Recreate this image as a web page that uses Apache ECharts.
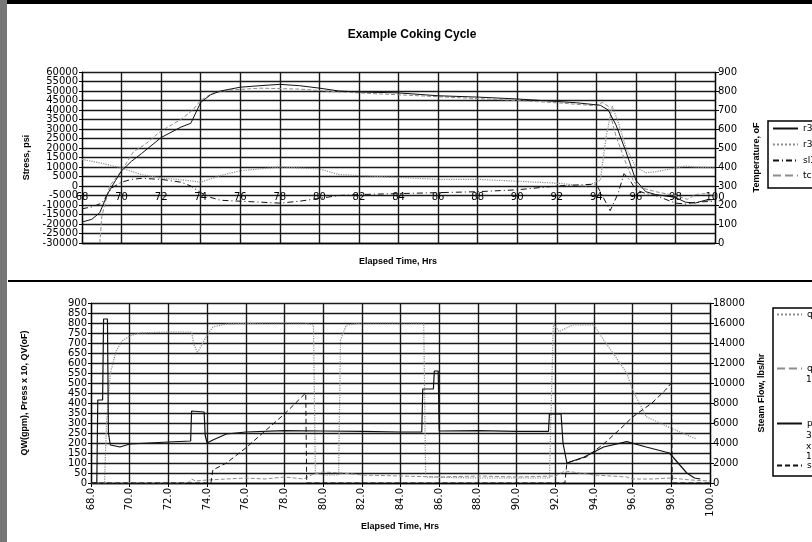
<!DOCTYPE html>
<html>
<head>
<meta charset="utf-8">
<script src="https://cdn.jsdelivr.net/npm/echarts@6/dist/echarts.min.js"></script>
<style>html,body{margin:0;padding:0;background:#fff}#c{width:812px;height:542px}</style>
</head>
<body>
<div id="c"></div>
<script>
// ---------- Top chart: Stress (left) / Temperature (right) ----------
const r3hT = [68.0,68.5,68.9,69.3,69.7,70.0,70.5,71.0,72.0,73.0,73.5,74.0,74.5,75.0,76.0,77.0,78.0,79.0,80.0,81.0,82.0,84.0,86.0,88.0,90.0,92.0,93.0,94.2,94.6,95.0,95.5,96.0,96.5,97.0,98.0,98.5,99.0,99.5,100.0];
const r3hV = [110,125,160,260,330,380,430,470,555,610,630,740,780,800,820,828,835,828,815,800,795,790,775,768,758,745,738,725,700,620,480,330,270,255,240,215,210,225,230];
const r3eT = [68.0,69.0,70.0,71.0,72.0,73.3,74.0,75.0,76.0,78.0,80.0,81.0,83.0,86.0,88.0,90.0,92.0,93.5,94.2,94.5,94.8,95.1,95.5,96.0,96.5,97.0,98.0,98.5,99.0,100.0];
const r3eV = [440,420,395,360,342,330,320,355,380,400,390,360,350,335,335,325,315,300,330,560,720,640,500,400,370,375,395,405,400,395];
const sl3T = [68.0,68.5,69.0,69.5,70.0,70.5,71.0,72.0,73.0,73.5,74.0,74.5,75.0,76.0,77.0,78.0,79.0,80.0,81.0,82.0,84.0,86.0,88.0,90.0,92.0,93.0,94.0,94.3,94.7,95.1,95.4,95.7,96.0,96.5,97.0,98.0,98.5,99.0,100.0];
const sl3V = [-12000,-11000,-9000,-1000,2000,3500,4000,3500,2000,0,-3500,-6000,-7500,-8000,-8500,-9000,-8000,-6500,-5000,-4500,-4000,-3500,-3000,-2000,0,500,1000,-5000,-13000,-4000,6500,3000,-2000,-4000,-5000,-9000,-9500,-8500,-8000];
const tc3T = [68.9,69.0,69.4,70.0,70.6,71.2,72.0,73.0,73.6,74.0,74.6,75.5,77.0,79.0,81.0,84.0,87.0,90.0,92.0,94.0,94.3,94.6,95.0,95.5,95.9,96.3,97.0,98.0,98.6,99.0,99.5,100.0];
const tc3V = [0,140,300,380,480,520,590,650,700,750,790,805,815,810,795,780,765,750,738,722,740,720,560,420,320,290,270,250,230,255,260,250];

// ---------- Bottom chart: QW / Press x 10 / QV (left), Steam Flow (right) ----------
const qvT = [68.0,68.7,68.8,69.0,69.3,69.6,70.0,70.5,72.0,73.2,73.3,73.5,74.0,74.3,75.0,77.0,79.0,79.5,79.6,80.0,80.8,80.9,81.2,82.0,85.2,85.3,88.0,91.7,91.9,92.2,92.9,94.0,94.5,95.0,95.7,96.0,96.7,97.8,99.0,99.3];
const qvV = [0,0,300,550,660,710,735,750,755,755,700,650,740,780,795,800,800,790,50,40,40,715,790,800,800,30,25,25,798,757,790,790,715,648,548,465,332,282,232,220];
const qwT = [68.0,73.0,73.2,73.4,74.0,75.0,76.0,77.0,78.0,79.0,79.5,80.0,81.0,82.0,84.0,86.0,88.0,90.0,92.0,92.5,94.0,95.7,96.0,97.0,98.0,99.0,100.0];
const qwV = [0,0,20,10,15,20,25,20,30,20,45,55,50,40,35,30,35,30,35,60,40,30,20,20,25,15,10];
const pT = [68.0,68.3,68.35,68.6,68.65,68.85,68.9,69.0,69.5,70.0,71.0,72.0,73.15,73.2,73.85,73.9,74.0,74.3,75.0,76.0,78.0,80.0,82.0,84.0,85.1,85.15,85.7,85.75,85.95,86.0,88.0,90.0,91.65,91.7,92.3,92.4,92.6,93.5,94.5,95.7,96.7,97.9,98.0,98.8,99.2,99.5];
const pV = [0,0,415,415,820,820,250,190,180,195,200,205,210,360,355,240,200,215,245,255,262,260,258,255,255,470,470,560,560,260,262,258,258,345,345,200,100,130,180,207,180,150,145,50,25,20];
const sT = [68.0,74.2,74.3,75.0,76.0,77.0,78.0,79.1,79.15,92.5,92.6,93.6,94.5,95.3,96.0,97.0,97.7,98.0,98.05,100.0];
const sV = [0,0,1300,2000,3500,5200,6900,9000,0,0,2000,2600,3900,5300,6600,8000,9300,10000,0,0];

const zip = (t, v) => t.map((x, i) => [x, v[i]]);
const BLK = '#111', GRY = '#8c8c8c';
const F = 'DejaVu Sans';
const nameStyle = {fontFamily: 'Liberation Sans', fontWeight: 'bold', fontSize: 9, color: '#000'};
const lblStyle = {fontFamily: F, fontSize: 10, color: '#000', showMinLabel: true, showMaxLabel: true, hideOverlap: false};
const plain = v => String(v);
const gridLine = {show: true, lineStyle: {color: '#1a1a1a', width: 1.4}};

const chart = echarts.init(document.getElementById('c'), null, {renderer: 'canvas'});
function line(name, data, xi, yi, color, type, width) {
  return {name, type: 'line', data, xAxisIndex: xi, yAxisIndex: yi, symbol: 'none', silent: true,
    lineStyle: {color, type, width: width || 1}, itemStyle: {color}, animation: false};
}
function leg(name, left, top) {
  return {data: [name], left, top, padding: 0, orient: 'vertical', itemWidth: 25, itemHeight: 10, itemGap: 2,
    itemStyle: {opacity: 0}, textStyle: {fontFamily: F, fontSize: 9, color: '#000'}, selectedMode: false};
}
chart.setOption({
  animation: false,
  backgroundColor: '#fff',
  grid: [
    {left: 82, top: 72, width: 633, height: 171},
    {left: 91, top: 303, width: 619, height: 180}
  ],
  xAxis: [
    {type: 'value', gridIndex: 0, min: 68, max: 100, interval: 2,
     axisLine: {onZero: false, lineStyle: {color: '#000', width: 1.4}},
     axisTick: {show: false},
     axisLabel: Object.assign({}, lblStyle, {margin: -51}),
     splitLine: gridLine},
    {type: 'value', gridIndex: 1, min: 68, max: 100, interval: 2,
     axisLine: {onZero: false, lineStyle: {color: '#000', width: 1.4}},
     axisTick: {show: true, length: 4, lineStyle: {color: '#000'}},
     axisLabel: Object.assign({}, lblStyle, {margin: 5, rotate: 90, formatter: v => v.toFixed(1)}),
     splitLine: gridLine}
  ],
  yAxis: [
    {type: 'value', gridIndex: 0, min: -30000, max: 60000, interval: 5000, position: 'left',
     name: 'Stress, psi', nameLocation: 'middle', nameRotate: 90, nameGap: 51, nameTextStyle: nameStyle,
     axisLine: {show: true, onZero: false, lineStyle: {color: '#000', width: 1.2}},
     axisTick: {show: true, length: 3, lineStyle: {color: '#000'}},
     axisLabel: Object.assign({}, lblStyle, {margin: 4, formatter: plain, showMinLabel: false, showMaxLabel: false}), splitLine: gridLine},
    {type: 'value', gridIndex: 0, min: 0, max: 900, interval: 100, position: 'right',
     name: 'Temperature, oF', nameLocation: 'middle', nameRotate: 90, nameGap: 37, nameTextStyle: nameStyle,
     axisLine: {show: true, onZero: false, lineStyle: {color: '#000', width: 1.2}},
     axisTick: {show: true, length: 4, lineStyle: {color: '#000'}},
     axisLabel: Object.assign({}, lblStyle, {margin: 3, formatter: plain}), splitLine: {show: false}},
    {type: 'value', gridIndex: 1, min: 0, max: 900, interval: 50, position: 'left',
     name: 'QW(gpm), Press x 10, QV(oF)', nameLocation: 'middle', nameRotate: 90, nameGap: 62, nameTextStyle: nameStyle,
     axisLine: {show: true, onZero: false, lineStyle: {color: '#000', width: 1.2}},
     axisTick: {show: true, length: 3, lineStyle: {color: '#000'}},
     axisLabel: Object.assign({}, lblStyle, {margin: 4, formatter: plain}), splitLine: gridLine},
    {type: 'value', gridIndex: 1, min: 0, max: 18000, interval: 2000, position: 'right',
     name: 'Steam Flow, lbs/hr', nameLocation: 'middle', nameRotate: 90, nameGap: 47, nameTextStyle: nameStyle,
     axisLine: {show: true, onZero: false, lineStyle: {color: '#000', width: 1.2}},
     axisTick: {show: true, length: 4, lineStyle: {color: '#000'}},
     axisLabel: Object.assign({}, lblStyle, {margin: 3, formatter: plain}), splitLine: {show: false}},
    // companion axis carrying only the end labels (60000 / -30000) of the stress axis
    {type: 'value', gridIndex: 0, min: -30000, max: 60000, interval: 90000, position: 'left',
     axisLine: {show: false, onZero: false}, axisTick: {show: true, length: 3, lineStyle: {color: '#000'}},
     axisLabel: Object.assign({}, lblStyle, {margin: 4, formatter: plain}), splitLine: {show: false}}
  ],
  legend: [
    leg('r3h', 772, 124), leg('r3e', 772, 140), leg('sl3', 772, 156), leg('tc3', 772, 171),
    leg('qv', 776, 310), leg('qw', 776, 364), leg('p', 776, 419), leg('s', 776, 461)
  ],
  series: [
    line('r3e', zip(r3eT, r3eV), 0, 1, GRY, 'dotted', 1.2),
    line('tc3', zip(tc3T, tc3V), 0, 1, GRY, 'dashed', 1),
    line('sl3', zip(sl3T, sl3V), 0, 0, BLK, [6, 3, 1, 3], 1),
    line('r3h', zip(r3hT, r3hV), 0, 1, BLK, 'solid', 1),
    line('qv', zip(qvT, qvV), 1, 2, GRY, 'dotted', 1.2),
    line('qw', zip(qwT, qwV), 1, 2, GRY, 'dashed', 1),
    line('s', zip(sT, sV), 1, 3, BLK, [5, 3], 1),
    line('p', zip(pT, pV), 1, 2, BLK, 'solid', 1.2)
  ],
  graphic: [
    {type: 'rect', shape: {x: 0, y: 0, width: 812, height: 4}, style: {fill: '#000'}, silent: true},
    {type: 'rect', shape: {x: 0, y: 0, width: 7, height: 542}, style: {fill: '#777'}, silent: true},
    {type: 'line', shape: {x1: 8, y1: 281, x2: 812, y2: 281}, style: {stroke: '#000', lineWidth: 2}, silent: true},
    {type: 'text', x: 412, y: 35, style: {text: 'Example Coking Cycle', font: 'bold 12px "Liberation Sans"', fill: '#000', textAlign: 'center', textVerticalAlign: 'middle'}},
    {type: 'text', x: 398, y: 262, style: {text: 'Elapsed Time, Hrs', font: 'bold 9px "Liberation Sans"', fill: '#000', textAlign: 'center', textVerticalAlign: 'middle'}},
    {type: 'text', x: 400, y: 527, style: {text: 'Elapsed Time, Hrs', font: 'bold 9px "Liberation Sans"', fill: '#000', textAlign: 'center', textVerticalAlign: 'middle'}},
    {type: 'rect', shape: {x: 768, y: 121, width: 60, height: 67}, style: {fill: 'none', stroke: '#000', lineWidth: 1.5}, silent: true},
    {type: 'rect', shape: {x: 773, y: 308, width: 60, height: 168}, style: {fill: 'none', stroke: '#000', lineWidth: 1.5}, silent: true},
    {type: 'text', x: 806, y: 380, style: {text: '1', font: '9px "DejaVu Sans"', fill: '#000', textVerticalAlign: 'middle'}},
    {type: 'text', x: 806, y: 436, style: {text: '3', font: '9px "DejaVu Sans"', fill: '#000', textVerticalAlign: 'middle'}},
    {type: 'text', x: 806, y: 447, style: {text: 'x', font: '9px "DejaVu Sans"', fill: '#000', textVerticalAlign: 'middle'}},
    {type: 'text', x: 806, y: 457, style: {text: '1', font: '9px "DejaVu Sans"', fill: '#000', textVerticalAlign: 'middle'}}
  ]
});
</script>
</body>
</html>
